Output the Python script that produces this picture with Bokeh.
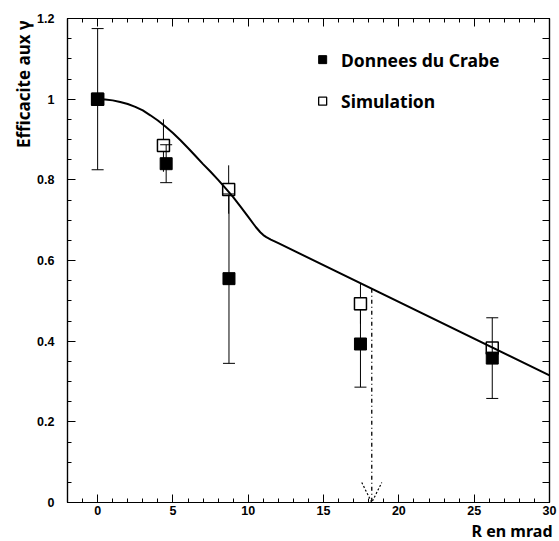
from bokeh.plotting import figure
from bokeh.models import (Range1d, FixedTicker, LinearAxis, Label, Arrow, OpenHead,
                          CustomJSTickFormatter, Title)
from bokeh.embed import file_html
from bokeh.resources import INLINE

# ---- data ----
data_x = [0.0, 4.55, 8.72, 17.45, 26.2]
data_y = [1.0, 0.84, 0.555, 0.393, 0.358]
data_err_low = [0.175, 0.047, 0.21, 0.107, 0.10]
data_err_high = [0.175, 0.047, 0.21, 0.085, 0.10]

sim_x = [0.0, 4.37, 8.70, 17.45, 26.2]
sim_y = [1.0, 0.885, 0.776, 0.493, 0.383]
sim_err = [0.0, 0.065, 0.06, 0.05, 0.0]

curve_x = [0, 0.5, 1, 1.5, 2, 2.5, 3, 3.5, 4, 4.5, 5, 5.5, 6, 6.5, 7, 7.5, 8, 8.5,
           9, 9.5, 10, 10.5, 10.8, 11.0, 11.2, 11.5, 12, 30]
curve_y = [1.0, 0.999, 0.997, 0.993, 0.988, 0.981, 0.972, 0.960, 0.947, 0.932,
           0.916, 0.898, 0.879, 0.859, 0.839, 0.820, 0.800, 0.779, 0.757, 0.733,
           0.708, 0.683, 0.670, 0.663, 0.658, 0.652, 0.643, 0.315]

threshold_x = 18.2
threshold_y = 0.53

x_ticks = [0, 5, 10, 15, 20, 25, 30]
x_minor = list(range(-2, 31))
y_ticks = [0, 0.2, 0.4, 0.6, 0.8, 1.0, 1.2]
y_tick_labels = ["0", "0.2", "0.4", "0.6", "0.8", "1", "1.2"]
y_minor = [round(i * 0.05, 2) for i in range(0, 25)]

legend_labels = ["Donnees du Crabe", "Simulation"]
x_title = "R en mrad"
y_title = "Efficacite aux \u03b3"

TICK_FONT = "Liberation Sans"
TEXT_FONT = "Noto Sans"

p = figure(width=559, height=541, x_range=Range1d(-2, 30), y_range=Range1d(0, 1.2),
           output_backend="svg", toolbar_location=None,
           min_border_left=67, min_border_right=10, min_border_top=18, min_border_bottom=39)
p.grid.visible = False
p.outline_line_color = "black"
p.outline_line_width = 1.2
p.background_fill_color = "white"
p.border_fill_color = "white"

empty = CustomJSTickFormatter(code="return ''")

def style(ax, ticks, minor, labels=True):
    ax.ticker = FixedTicker(ticks=ticks, minor_ticks=minor)
    ax.axis_line_color = "black"
    ax.axis_line_width = 1.2
    ax.major_tick_in = 8
    ax.major_tick_out = 0
    ax.minor_tick_in = 4
    ax.minor_tick_out = 0
    ax.major_tick_line_color = "black"
    ax.minor_tick_line_color = "black"
    ax.major_label_text_font = TICK_FONT
    ax.major_label_text_font_style = "bold"
    ax.major_label_text_font_size = "12.5px"
    ax.major_label_text_color = "black"
    if not labels:
        ax.formatter = empty
        ax.major_label_standoff = 0
        ax.axis_label_standoff = 0

xa = p.xaxis[0]
style(xa, x_ticks, x_minor)
xa.major_label_standoff = 3
ya = p.yaxis[0]
style(ya, y_ticks, y_minor)
ya.major_label_standoff = 13
ya.major_label_overrides = dict(zip(y_ticks, y_tick_labels))

top = LinearAxis()
style(top, x_ticks, x_minor, labels=False)
p.add_layout(top, "above")
right = LinearAxis()
style(right, y_ticks, y_minor, labels=False)
right.major_tick_in = 7
right.minor_tick_in = 7
p.add_layout(right, "right")

# axis titles as side-panel titles (right-aligned, ROOT style)
p.add_layout(Title(text=x_title, align="right", text_font=TEXT_FONT, text_font_size="16px",
                   text_font_style="bold", text_color="black", standoff=0, offset=-3),
             "below")
p.add_layout(Title(text=y_title, align="right", text_font=TEXT_FONT, text_font_size="17px",
                   text_font_style="bold", text_color="black", standoff=0, offset=2),
             "left")

# simulation error bars (no caps) and open squares
p.segment(x0=sim_x, y0=[y - e for y, e in zip(sim_y, sim_err)],
          x1=sim_x, y1=[y + e for y, e in zip(sim_y, sim_err)],
          line_color="black", line_width=1)
p.scatter(x=sim_x, y=sim_y, marker="square", size=12, fill_color="white",
          line_color="black", line_width=1.5)

# data error bars with caps and filled squares
d_lo = [y - e for y, e in zip(data_y, data_err_low)]
d_hi = [y + e for y, e in zip(data_y, data_err_high)]
p.segment(x0=data_x, y0=d_lo, x1=data_x, y1=d_hi, line_color="black", line_width=1)
p.scatter(x=data_x, y=d_lo, marker="dash", size=12, line_color="black", line_width=1)
p.scatter(x=data_x, y=d_hi, marker="dash", size=12, line_color="black", line_width=1)
p.scatter(x=data_x, y=data_y, marker="square", size=12, fill_color="black",
          line_color="black", line_width=1)

# fitted curve
p.line(curve_x, curve_y, line_color="black", line_width=2)

# dash-dot threshold with open arrow head
p.add_layout(Arrow(x_start=threshold_x, y_start=threshold_y, x_end=threshold_x, y_end=0,
                   line_color="black", line_width=1.3, line_dash="4 3 1 3",
                   end=OpenHead(size=20, line_color="black", line_width=1.2, line_dash="2 2")))

# legend (manual, as in the reference)
leg_x = [14.94, 14.94]
leg_y = [1.098, 0.995]
p.scatter(x=[leg_x[0]], y=[leg_y[0]], marker="square", size=8, fill_color="black",
          line_color="black")
p.scatter(x=[leg_x[1]], y=[leg_y[1]], marker="square", size=8, fill_color="white",
          line_color="black", line_width=1.3)
for lx, ly, txt in zip(leg_x, leg_y, legend_labels):
    p.add_layout(Label(x=lx + 1.22, y=ly, text=txt, text_font=TEXT_FONT,
                       text_font_size="17.5px", text_font_style="bold",
                       text_baseline="middle", text_align="left", text_color="black"))

open("out.html", "w").write(file_html(p, INLINE))
